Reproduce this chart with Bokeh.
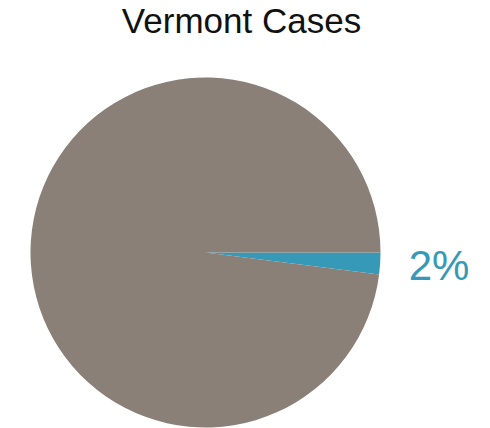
import math
from bokeh.plotting import figure
from bokeh.models import Range1d, ColumnDataSource
from bokeh.core.properties import value
from bokeh.embed import file_html
from bokeh.resources import INLINE

title_text = "Vermont Cases"
categories = ["Vermont", "Other"]
shares = [2, 98]
colors = ["#3699b8", "#8a8077"]
label_texts = ["2%"]

W, H = 490, 428
p = figure(width=W, height=H, output_backend="svg", toolbar_location=None,
           x_range=Range1d(0, W), y_range=Range1d(0, H), min_border=0)
p.axis.visible = False
p.grid.visible = False
p.outline_line_color = None
p.background_fill_color = "white"
p.border_fill_color = "white"

cx, cy, r = 205, 176, 175
total = sum(shares)
# slices drawn clockwise from 3 o'clock
ends = []
starts = []
acc = 0.0
for s in shares:
    a0 = -acc / total * 2 * math.pi
    acc += s
    a1 = -acc / total * 2 * math.pi
    starts.append(a1)
    ends.append(a0)
src = ColumnDataSource(dict(x=[cx] * len(shares), y=[cy] * len(shares),
                            start=starts, end=ends, color=colors, cat=categories))
p.wedge(x="x", y="y", radius=r, start_angle="start", end_angle="end",
        fill_color="color", line_color=None, source=src)

mid = (starts[0] + ends[0]) / 2
lr = 234
p.text(x=[cx + lr * math.cos(mid)], y=[cy + lr * math.sin(mid) + 2], text=label_texts,
       text_font=value("Liberation Sans"), text_font_size="42px",
       text_color=colors[0], text_align="center", text_baseline="middle")

p.text(x=[241], y=[408], text=[title_text], text_font=value("Liberation Sans"),
       text_font_size="35px", text_color="#111111", text_align="center",
       text_baseline="middle")

open("out.html", "w").write(file_html(p, INLINE))
